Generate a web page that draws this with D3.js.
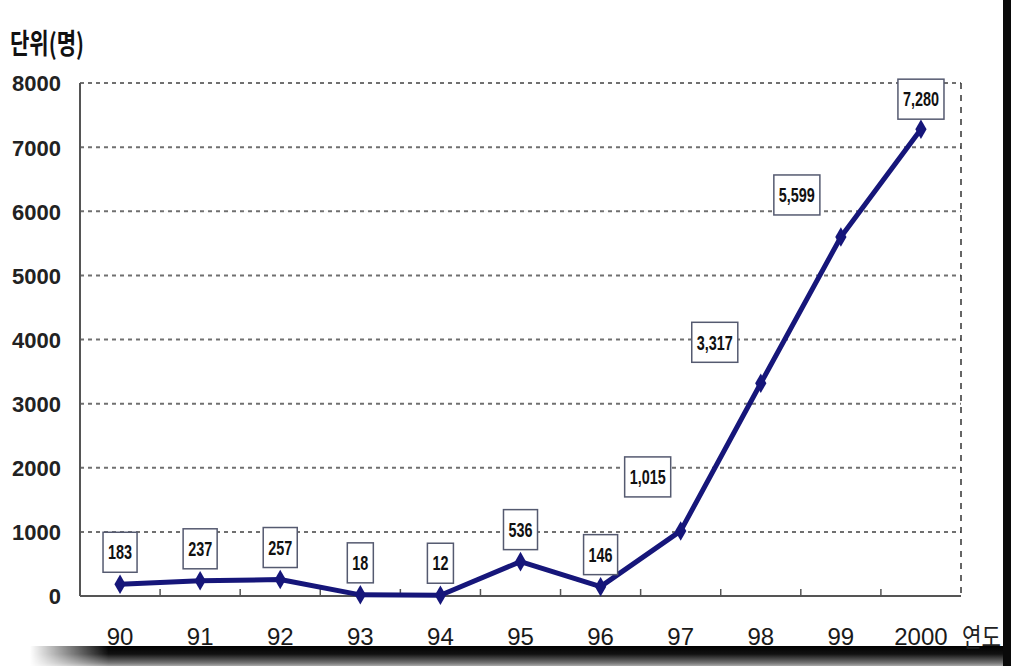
<!DOCTYPE html>
<html><head><meta charset="utf-8">
<script src="https://cdnjs.cloudflare.com/ajax/libs/d3/7.8.5/d3.min.js"></script>
<style>html,body{margin:0;padding:0;background:#fff;}svg{display:block;}</style>
</head><body>
<script>
const categories = ["90","91","92","93","94","95","96","97","98","99","2000"];
const values = [183, 237, 257, 18, 12, 536, 146, 1015, 3317, 5599, 7280];
const valueLabels = ["183","237","257","18","12","536","146","1,015","3,317","5,599","7,280"];
const yTicks = [0,1000,2000,3000,4000,5000,6000,7000,8000];
const unitLabel = "단위(명)";
const xAxisLabel = "연도";
// label box offsets (layout), relative to points
const labelOffsets = [[0,-32],[0,-32],[0,-32],[0,-32],[0,-32],[0,-32],[0,-32],[-33,-54],[-46,-41],[-44,-42],[0,-30]];

const W = 1011, H = 666;
const svg = d3.select("body").append("svg").attr("width", W).attr("height", H);
const defs = svg.append("defs");

// shadow gradients
const vg = defs.append("linearGradient").attr("id","vg").attr("x1",0).attr("y1",0).attr("x2",0).attr("y2",1);
vg.append("stop").attr("offset","0%").attr("stop-color","#000");
vg.append("stop").attr("offset","40%").attr("stop-color","#111");
vg.append("stop").attr("offset","85%").attr("stop-color","#777");
vg.append("stop").attr("offset","100%").attr("stop-color","#aaa");
const hg = defs.append("linearGradient").attr("id","hg").attr("x1",0).attr("y1",0).attr("x2",1).attr("y2",0);
hg.append("stop").attr("offset","0%").attr("stop-color","#fff").attr("stop-opacity",0);
hg.append("stop").attr("offset","8%").attr("stop-color","#fff").attr("stop-opacity",1);
hg.append("stop").attr("offset","100%").attr("stop-color","#fff").attr("stop-opacity",1);
const mask = defs.append("mask").attr("id","hm");
mask.append("rect").attr("x",30).attr("y",640).attr("width",981).attr("height",26).attr("fill","url(#hg)");

svg.append("rect").attr("width",W).attr("height",H).attr("fill","#fff");
svg.append("rect").attr("x",30).attr("y",646).attr("width",981).attr("height",20)
  .attr("fill","url(#vg)").attr("mask","url(#hm)");
svg.append("rect").attr("x",1003).attr("y",0).attr("width",8).attr("height",H).attr("fill","#0a0a0a");

const x = d3.scaleBand().domain(categories).range([80, 961]).padding(0);
const y = d3.scaleLinear().domain([0, 8000]).range([596, 83]);
const cx = d => x(d) + x.bandwidth()/2;

// gridlines
svg.append("g").selectAll("line").data(yTicks.filter(t => t > 0)).join("line")
  .attr("x1", 80).attr("x2", 961).attr("y1", d => y(d)).attr("y2", d => y(d))
  .attr("stroke", "#707070").attr("stroke-width", 2).attr("stroke-dasharray", "4,4");

// right dashed border
svg.append("line").attr("x1",961).attr("x2",961).attr("y1",y(8000)).attr("y2",y(0))
  .attr("stroke","#333").attr("stroke-width",1.5).attr("stroke-dasharray","6,6");
// left axis line
svg.append("line").attr("x1",80).attr("x2",80).attr("y1",y(8000)).attr("y2",y(0))
  .attr("stroke","#555").attr("stroke-width",2);
// bottom axis line
svg.append("line").attr("x1",80).attr("x2",961).attr("y1",y(0)).attr("y2",y(0))
  .attr("stroke","#555").attr("stroke-width",2);
// category boundary ticks
svg.append("g").selectAll("line").data(categories.slice(1)).join("line")
  .attr("x1", d => x(d)).attr("x2", d => x(d)).attr("y1", y(0)).attr("y2", y(0) - 7)
  .attr("stroke","#555").attr("stroke-width",1.5);

// y axis labels
const yAxis = svg.append("g").attr("transform","translate(80,0)")
  .call(d3.axisLeft(y).tickValues(yTicks).tickSize(0).tickPadding(19).tickFormat(d => String(d)));
yAxis.select(".domain").remove();
yAxis.selectAll("text").attr("font-family","'Liberation Sans', Arial, sans-serif")
  .attr("font-size", 22).attr("font-weight","bold").attr("fill","#222").attr("dy","0.36em");

// x axis labels
const xAxis = svg.append("g").attr("transform",`translate(0,${y(0)})`)
  .call(d3.axisBottom(x).tickSize(0).tickPadding(32));
xAxis.select(".domain").remove();
xAxis.selectAll("text").attr("font-family","'Liberation Sans', Arial, sans-serif")
  .attr("font-size", 24).attr("fill","#1a1a1a");

// unit label
svg.append("text").attr("x", 10).attr("y", 54).text(unitLabel)
  .attr("font-family","'Noto Sans CJK KR', sans-serif").attr("font-weight","bold")
  .attr("font-size", 28).attr("fill","#111")
  .attr("textLength", 74).attr("lengthAdjust","spacingAndGlyphs");
// x axis title
svg.append("text").attr("x", 962).attr("y", 647).text(xAxisLabel)
  .attr("font-family","'Noto Sans CJK KR', sans-serif")
  .attr("font-size", 26).attr("fill","#222")
  .attr("textLength", 39).attr("lengthAdjust","spacingAndGlyphs");

// line
const pts = categories.map((c, i) => ({c, v: values[i], i}));
svg.append("path").datum(pts)
  .attr("d", d3.line().x(d => cx(d.c)).y(d => y(d.v)))
  .attr("fill","none").attr("stroke","#16167a").attr("stroke-width",5).attr("stroke-linejoin","round");
svg.append("g").selectAll("path").data(pts).join("path")
  .attr("transform", d => `translate(${cx(d.c)},${y(d.v)})`)
  .attr("d", d3.symbol().type(d3.symbolDiamond).size(110))
  .attr("fill","#16167a");

// value labels
const lg = svg.append("g").selectAll("g").data(pts).join("g")
  .attr("transform", d => `translate(${cx(d.c) + labelOffsets[d.i][0]},${y(d.v) + labelOffsets[d.i][1]})`);
lg.append("text").text(d => valueLabels[d.i])
  .attr("text-anchor","middle").attr("dy","0.36em")
  .attr("font-family","'Liberation Sans', Arial, sans-serif")
  .attr("font-weight","bold").attr("font-size",20).attr("fill","#111");
lg.each(function() {
  const g = d3.select(this);
  const t = g.select("text");
  const w = t.node().getComputedTextLength() * 0.72;
  t.attr("textLength", w).attr("lengthAdjust","spacingAndGlyphs");
  g.insert("rect","text")
    .attr("x", -w/2 - 5).attr("y", -20).attr("width", w + 10).attr("height", 40)
    .attr("fill","#fff").attr("stroke","#555a70").attr("stroke-width",1.5);
});
</script>
</body></html>
